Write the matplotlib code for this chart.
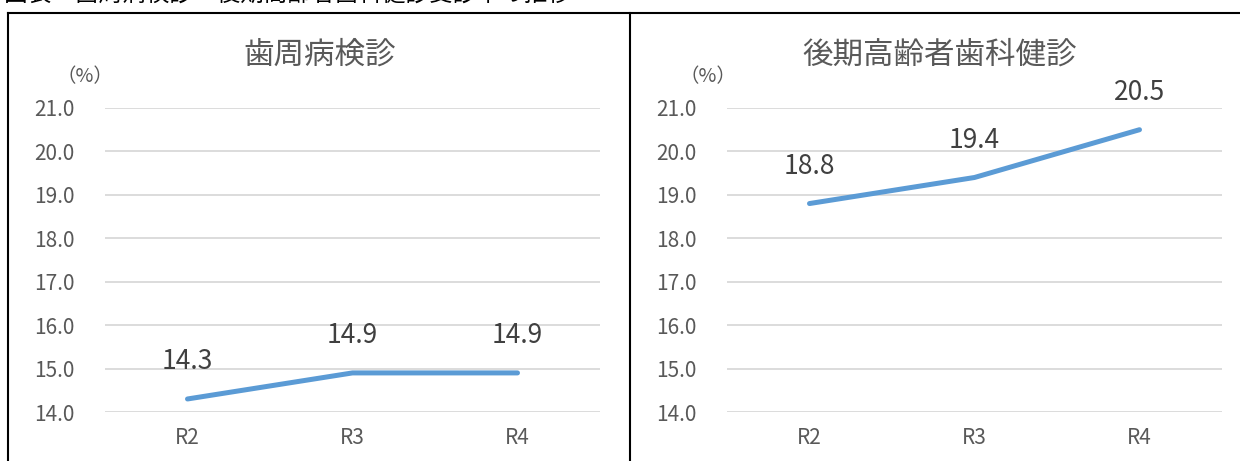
import matplotlib.pyplot as plt
from matplotlib.lines import Line2D

plt.rcParams['font.family'] = ['Noto Sans CJK JP', 'DejaVu Sans']

years = ['R2', 'R3', 'R4']
perio_rate = [14.3, 14.9, 14.9]
elderly_rate = [18.8, 19.4, 20.5]
titles = ['歯周病検診', '後期高齢者歯科健診']
yticks = [14.0, 15.0, 16.0, 17.0, 18.0, 19.0, 20.0, 21.0]

W, H = 1240, 461
fig = plt.figure(figsize=(W / 100, H / 100), dpi=100)

# header caption, mostly cut off at the top edge like the source
fig.text(4 / W, 1 - 1 / H, '図表　歯周病検診・後期高齢者歯科健診受診率の推移',
         fontsize=17, va='baseline', ha='left', color='black')

# frame lines
for x0, y0, x1, y1 in [(8, 13, W, 13), (8, 13, 8, H), (630, 13, 630, H)]:
    fig.add_artist(Line2D([x0 / W, x1 / W], [1 - y0 / H, 1 - y1 / H],
                          color='black', lw=1.5))

panels = [(105, perio_rate, titles[0], 320, 85), (727, elderly_rate, titles[1], 940, 708)]
for left, vals, title, tx, px in panels:
    ax = fig.add_axes([left / W, 49 / H, 495 / W, 304 / H])
    ax.plot(range(len(years)), vals, color='#5B9BD5', lw=3.6,
            solid_capstyle='round', clip_on=False, zorder=3)
    for i, v in enumerate(vals):
        ax.annotate(f'{v:.1f}', (i, v), xytext=(0, 17), textcoords='offset points',
                    ha='center', va='bottom', fontsize=19, color='#404040')
    ax.set_xlim(-0.5, 2.5)
    ax.set_ylim(14, 21)
    ax.set_yticks(yticks)
    ax.set_yticklabels([f'{t:.1f}' for t in yticks])
    ax.set_xticks(range(len(years)))
    ax.set_xticklabels(years)
    ax.grid(axis='y', color='#D9D9D9', lw=1.3)
    ax.set_axisbelow(True)
    for s in ax.spines.values():
        s.set_visible(False)
    ax.tick_params(axis='y', length=0, pad=22, labelsize=15, labelcolor='#595959')
    ax.tick_params(axis='x', length=0, pad=11, labelsize=15, labelcolor='#595959')
    fig.text(tx / W, 1 - 55 / H, title, fontsize=22, ha='center', va='center',
             color='#595959')
    fig.text(px / W, 1 - 77 / H, '（%）', fontsize=14, ha='center', va='center',
             color='#595959')

fig.savefig('out.png', dpi=100)
